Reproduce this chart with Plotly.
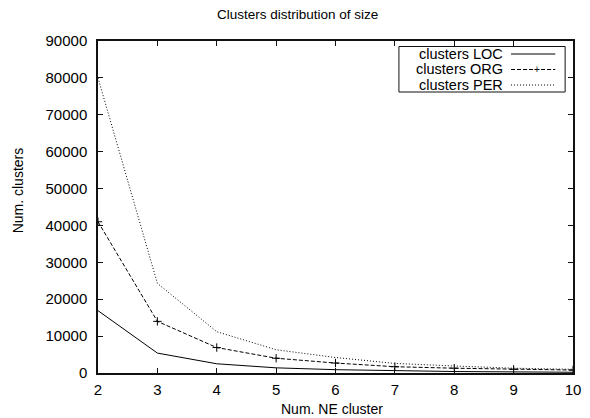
import plotly.graph_objects as go

# ---- data ----
sizes = [2, 3, 4, 5, 6, 7, 8, 9, 10]
loc_counts = [16900, 5400, 2500, 1400, 900, 600, 400, 300, 200]
org_counts = [41000, 14000, 6900, 4000, 2700, 1700, 1300, 1000, 800]
per_counts = [80000, 24300, 11200, 6300, 4200, 2600, 1900, 1300, 1000]
series_names = ["clusters LOC", "clusters ORG", "clusters PER"]
y_ticks = [0, 10000, 20000, 30000, 40000, 50000, 60000, 70000, 80000, 90000]
x_ticks = [2, 3, 4, 5, 6, 7, 8, 9, 10]

FONT = "Liberation Sans, Arial, Helvetica, sans-serif"
W, H = 590, 418
ML, MR, MT, MB = 98, 9, 41, 45
PW, PH = W - ML - MR, H - MT - MB


def px(xp):
    return (xp - ML) / PW


def py(yp):
    return (H - MB - yp) / PH


fig = go.Figure()
fig.add_trace(go.Scatter(x=sizes, y=loc_counts, mode="lines", name=series_names[0],
                         line=dict(color="#000", width=1), showlegend=False))
fig.add_trace(go.Scatter(x=sizes, y=org_counts, mode="lines+markers", name=series_names[1],
                         line=dict(color="#000", width=1, dash="4px,2px"),
                         marker=dict(symbol="cross-thin", size=6, line=dict(color="#000", width=1)),
                         showlegend=False))
fig.add_trace(go.Scatter(x=sizes, y=per_counts, mode="lines", name=series_names[2],
                         line=dict(color="#000", width=1, dash="1px,2px"), showlegend=False))

axis_common = dict(showline=True, linecolor="#111", linewidth=1.5, mirror="ticks",
                   ticks="inside", ticklen=5, tickcolor="#111", tickwidth=1,
                   showgrid=False, zeroline=False,
                   tickfont=dict(family=FONT, size=15, color="#000"))

fig.update_xaxes(range=[2, 10], tickvals=x_ticks, ticktext=[str(v) for v in x_ticks],
                 ticklabelstandoff=2, **axis_common)
fig.update_yaxes(range=[0, 90000], tickvals=y_ticks, ticktext=[str(v) for v in y_ticks],
                 ticklabelstandoff=6, **axis_common)

annotations = [
    dict(text="Clusters distribution of size", x=px(301), y=py(14), xref="paper", yref="paper",
         showarrow=False, xanchor="center", yanchor="middle", font=dict(family=FONT, size=13.5, color="#000")),
    dict(text="Num. NE cluster", x=px(336), y=py(409), xref="paper", yref="paper",
         showarrow=False, xanchor="center", yanchor="middle", font=dict(family=FONT, size=14, color="#000")),
    dict(text="Num. clusters", x=px(17), y=py(190), xref="paper", yref="paper", textangle=-90,
         showarrow=False, xanchor="center", yanchor="middle", font=dict(family=FONT, size=14, color="#000")),
]

# custom legend (text right, sample on the right as in gnuplot)
rows_y = [54, 69.5, 85]
dashes = ["solid", "4px,2px", "1px,2px"]
shapes = [dict(type="rect", xref="paper", yref="paper", x0=px(404), x1=px(573), y0=py(92), y1=py(46.5),
               line=dict(color="#111", width=1), fillcolor="white", layer="above")]
for name, ry, d in zip(series_names, rows_y, dashes):
    annotations.append(dict(text=name, x=px(512), y=py(ry), xref="paper", yref="paper", showarrow=False,
                            xanchor="right", yanchor="middle", font=dict(family=FONT, size=14.5, color="#000")))
    shapes.append(dict(type="line", xref="paper", yref="paper", x0=px(518), x1=px(563), y0=py(ry), y1=py(ry),
                       line=dict(color="#000", width=1, dash=d), layer="above"))
annotations.append(dict(text="+", x=px(544), y=py(rows_y[1]), xref="paper", yref="paper", showarrow=False,
                        xanchor="center", yanchor="middle", font=dict(family=FONT, size=10, color="#000")))

fig.update_layout(width=W, height=H, margin=dict(l=ML, r=MR, t=MT, b=MB),
                  plot_bgcolor="white", paper_bgcolor="white",
                  annotations=annotations, shapes=shapes, showlegend=False)

fig.write_html("out.html", config={"displayModeBar": False},
               post_script="document.body.style.margin='0';document.body.style.overflow='hidden';")
